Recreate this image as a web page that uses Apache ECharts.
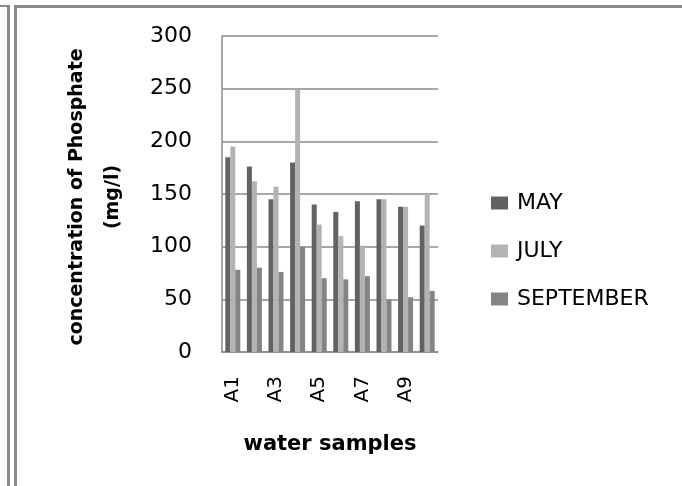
<!DOCTYPE html>
<html>
<head>
<meta charset="utf-8">
<script src="https://cdn.jsdelivr.net/npm/echarts@6/dist/echarts.min.js"></script>
<style>
  html, body { margin: 0; padding: 0; background: #fff; }
  #chart { width: 682px; height: 486px; }
</style>
</head>
<body>
<div id="chart"></div>
<script>
// water samples A1..A10
const categories = ['A1', 'A2', 'A3', 'A4', 'A5', 'A6', 'A7', 'A8', 'A9', 'A10'];
const mayValues = [185, 176, 145, 180, 140, 133, 143, 145, 138, 120];
const julyValues = [195, 162, 157, 249, 121, 110, 101, 145, 138, 150];
const septemberValues = [78, 80, 76, 100, 70, 69, 72, 50, 52, 58];
const yTicks = [0, 50, 100, 150, 200, 250, 300];

const chart = echarts.init(document.getElementById('chart'));
const gray = '#8a8a8a';
const font = 'DejaVu Sans';

const option = {
  animation: false,
  backgroundColor: '#fff',
  grid: { left: 222, right: 244, top: 36, bottom: 134, containLabel: false },
  legend: {
    orient: 'vertical',
    left: 486,
    top: 187,
    itemWidth: 17,
    itemHeight: 13,
    itemGap: 26,
    icon: 'rect',
    textStyle: { fontFamily: font, fontSize: 22, color: '#000', padding: [0, 0, 0, 4] },
    data: ['MAY', 'JULY', 'SEPTEMBER']
  },
  xAxis: {
    type: 'category',
    data: categories,
    name: 'water samples',
    nameLocation: 'middle',
    nameGap: 82,
    nameTextStyle: { fontFamily: font, fontWeight: 'bold', fontSize: 21, color: '#000' },
    axisLine: { lineStyle: { color: gray, width: 1.5 } },
    axisTick: { show: false },
    axisLabel: { interval: 1, rotate: 90, margin: 24, fontFamily: font, fontSize: 20, color: '#000' }
  },
  yAxis: {
    type: 'value',
    min: 0,
    max: yTicks[yTicks.length - 1],
    interval: yTicks[1] - yTicks[0],
    axisLine: { show: true, lineStyle: { color: gray, width: 1.5 } },
    axisTick: { show: false },
    splitLine: { lineStyle: { color: gray, width: 1.5 } },
    axisLabel: { margin: 30, fontFamily: font, fontSize: 22, color: '#000' }
  },
  series: [
    { name: 'MAY', type: 'bar', data: mayValues, barWidth: 5, barGap: '0%', itemStyle: { color: '#626262' } },
    { name: 'JULY', type: 'bar', data: julyValues, barWidth: 5, barGap: '0%', itemStyle: { color: '#b3b3b3' } },
    { name: 'SEPTEMBER', type: 'bar', data: septemberValues, barWidth: 5, barGap: '0%', itemStyle: { color: '#848484' } }
  ],
  graphic: [
    // frame lines of the page
    { type: 'rect', shape: { x: 0, y: 5, width: 10, height: 2 }, style: { fill: gray }, silent: true },
    { type: 'rect', shape: { x: 7, y: 5, width: 3, height: 481 }, style: { fill: gray }, silent: true },
    { type: 'rect', shape: { x: 14, y: 5, width: 668, height: 3 }, style: { fill: gray }, silent: true },
    { type: 'rect', shape: { x: 14, y: 5, width: 3, height: 481 }, style: { fill: gray }, silent: true },
    {
      type: 'text',
      x: 95,
      y: 197,
      rotation: Math.PI / 2,
      style: {
        text: 'concentration of Phosphate\n(mg/l)',
        fontFamily: font,
        fontWeight: 'bold',
        fontSize: 19,
        lineHeight: 36,
        fill: '#000',
        align: 'center',
        verticalAlign: 'middle'
      }
    }
  ]
};

chart.setOption(option);
</script>
</body>
</html>
